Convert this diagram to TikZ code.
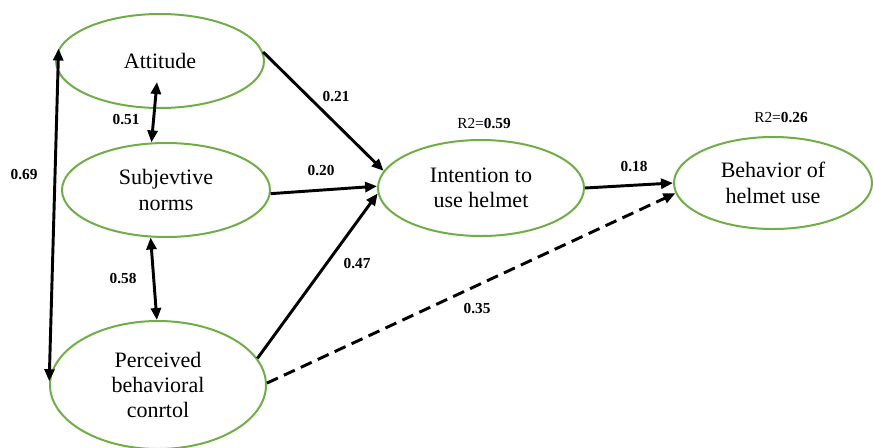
\documentclass[tikz,border=0pt]{standalone}
\usepackage{fontspec}
\setmainfont{Liberation Serif}
\usetikzlibrary{shapes.geometric,arrows.meta}
\definecolor{ovalgreen}{RGB}{112,173,71}
\tikzset{
construct/.style={ellipse,draw=ovalgreen,line width=1.5pt,inner sep=0pt,align=center,font=\fontsize{16.5}{19}\selectfont},
effect/.style={line width=2.2pt,-{Triangle[length=9pt,width=7.5pt]}},
corr/.style={line width=2.2pt,{Triangle[length=9pt,width=7.5pt]}-{Triangle[length=9pt,width=7.5pt]}},
coef/.style={font=\fontsize{11.5}{13}\selectfont\bfseries,inner sep=0pt},
rsq/.style={font=\fontsize{11.5}{13}\selectfont,inner sep=0pt},
}

\begin{document}
\begin{tikzpicture}[x=0.75pt,y=-0.75pt]
\useasboundingbox (0,0) rectangle (873,447);
\node[construct,minimum width=156pt,minimum height=70.5pt] (att) at (160,61) {Attitude};
\node[construct,minimum width=156pt,minimum height=70.5pt] (sn) at (166,190) {Subjevtive\\norms};
\node[construct,minimum width=162pt,minimum height=96pt] (pbc) at (158,385) {Perceived\\behavioral\\conrtol};
\node[construct,minimum width=154.5pt,minimum height=72pt] (int) at (481,188) {Intention to\\use helmet};
\node[construct,minimum width=148.5pt,minimum height=69pt] (beh) at (773,183) {Behavior of\\helmet use};
\coordinate (att51) at (157,82);

\draw[corr] (att.173) -- (pbc.178);
\draw[corr] (att51) -- (sn.107);
\draw[corr] (sn.252) -- (pbc.91);
\draw[effect] (att.5) -- (int.170);
\draw[effect] (sn.-2) -- (int.179);
\draw[effect] (pbc.15.5) -- (int.183);
\draw[effect] (int.0) -- (beh.180);
\draw[effect,dash pattern=on 9pt off 5pt] (pbc.1) -- (beh.186);

\node[coef] (c69) at (24,175) {0.69};
\node[coef] (c51) at (126,120) {0.51};
\node[coef] (c58) at (123,279) {0.58};
\node[coef] (c21) at (336,97) {0.21};
\node[coef] (c20) at (321,171) {0.20};
\node[coef] (c47) at (357,264) {0.47};
\node[coef] (c35) at (477,309) {0.35};
\node[coef] (c18) at (634,167) {0.18};
\node[rsq] (r2int) at (484,124) {R2=\textbf{0.59}};
\node[rsq] (r2beh) at (781,118) {R2=\textbf{0.26}};
\end{tikzpicture}
\end{document}
